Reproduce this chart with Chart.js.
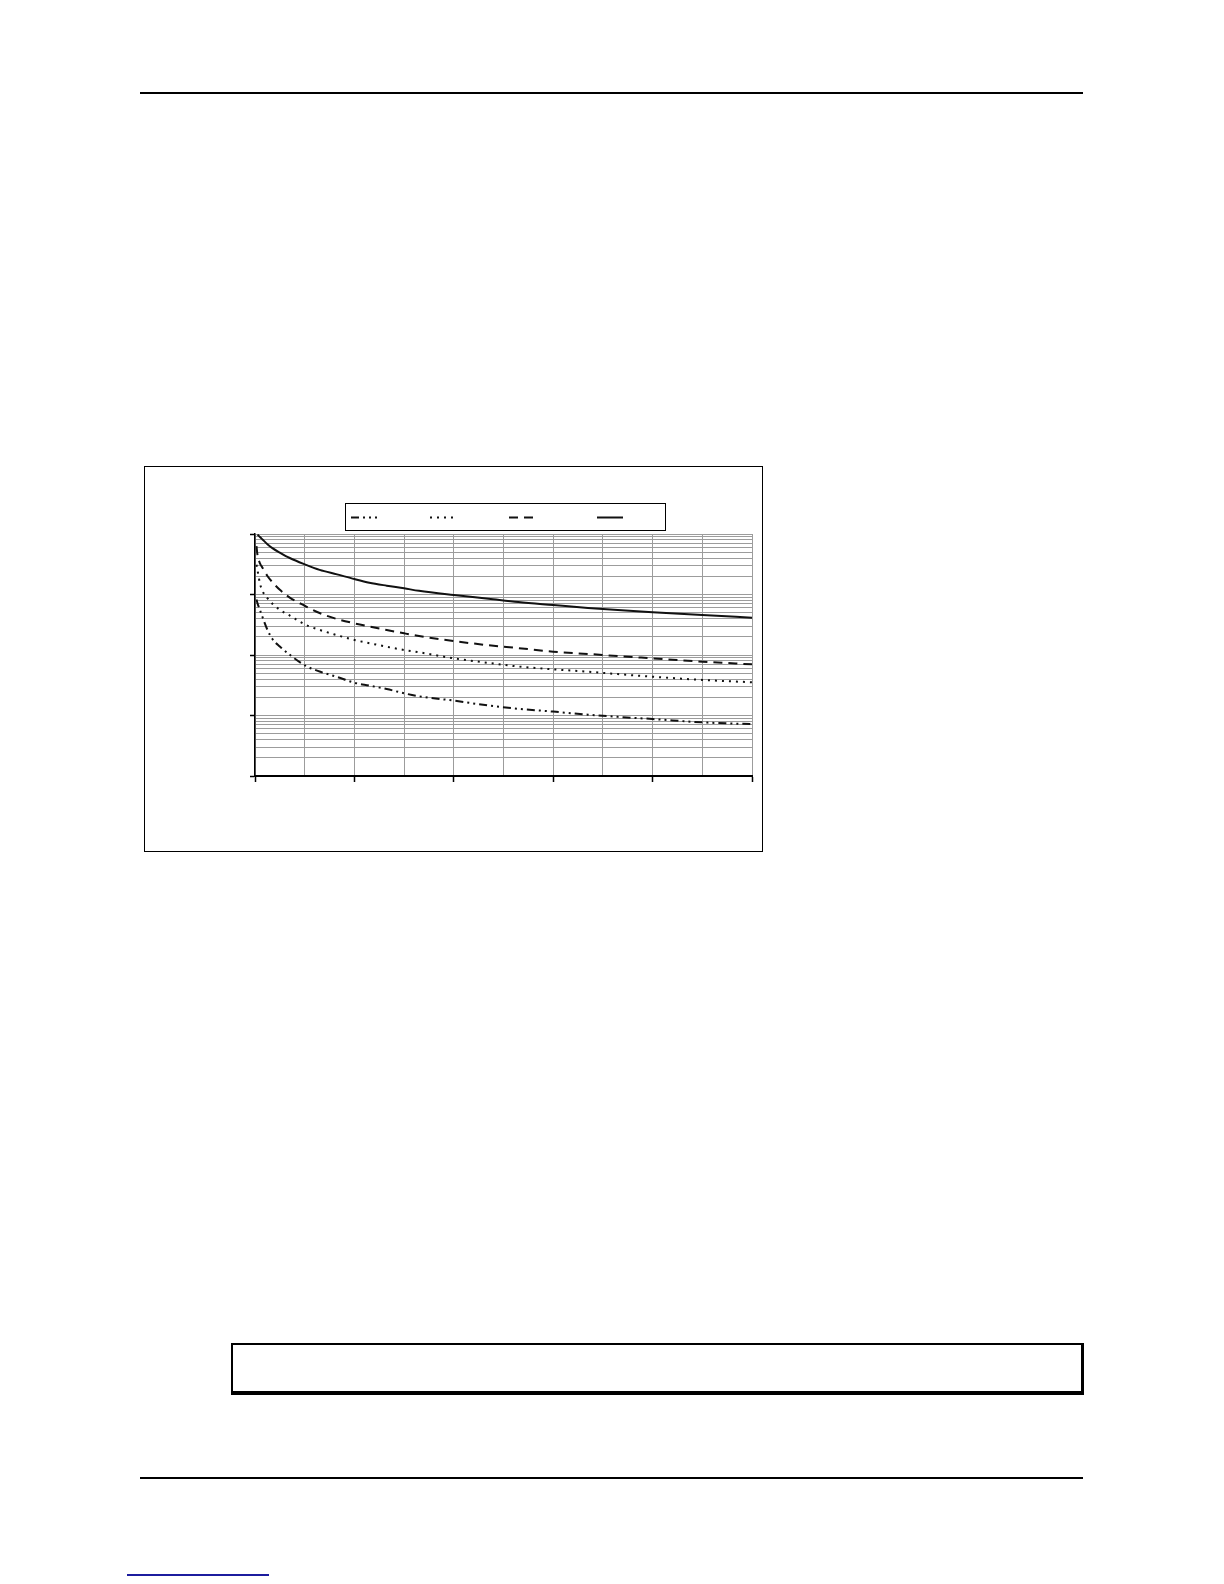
<!DOCTYPE html>
<html lang="en">
  <head>
    <meta charset="UTF-8" />
    <title>Chart</title>
    <style>
      body {
        margin: 0;
        width: 1224px;
        height: 1584px;
        position: relative;
        background: #fff;
        font-family: "Liberation Sans", Arial, sans-serif;
      }
      .rule {
        position: absolute;
        left: 140px;
        width: 943px;
        height: 0;
        border-top: 2px solid #000;
      }
      .frame {
        position: absolute;
        left: 144px;
        top: 466px;
        width: 619px;
        height: 386px;
        border: 1px solid #000;
        box-sizing: border-box;
      }
      .note {
        position: absolute;
        left: 231px;
        top: 1343px;
        width: 853px;
        height: 52px;
        box-sizing: border-box;
        border: 2px solid #000;
        border-bottom-width: 4px;
        border-right-width: 3px;
      }
      .link {
        position: absolute;
        left: 127px;
        top: 1574px;
        width: 142px;
        border-top: 2px solid #1c1c9e;
      }
    </style>
  </head>
  <body>
    <div class="rule" style="top: 92px"></div>
    <div class="frame">
      <canvas id="chart"></canvas>
    </div>
    <div class="note"></div>
    <div class="rule" style="top: 1477px"></div>
    <div class="link"></div>

    <script src="https://cdn.jsdelivr.net/npm/chart.js@4.4.1/dist/chart.umd.min.js"></script>
    <script>
      // x positions shared by all four curves
      const xs = [0.3, 0.5, 1, 1.5, 2.5, 3.5, 5, 7, 10, 13, 16.5, 20, 23, 26.5, 30, 33, 40, 47, 53, 60, 67, 73, 80, 90, 100];

      // values (log y axis, 1 .. 10000)
      const dashDotValues = [830, 718, 552, 425, 261, 184, 138, 101, 67.6, 53.3, 43.5, 34.8, 31.2, 27.4, 23.3, 20.8, 17.6, 14.6, 12.9, 11.6, 10.3, 9.5, 8.75, 7.7, 7.2];
      const dottedValues = [3100, 2540, 1515, 1143, 869, 705, 558, 448, 321, 260, 213, 177, 157, 137, 121, 111, 88, 74, 64.5, 58, 53, 48.3, 43.8, 38.7, 35.4];
      const dashedValues = [6300, 4500, 3280, 2780, 2025, 1598, 1194, 887, 652, 494, 393, 334, 296, 259, 228, 206, 170, 145, 130, 113.5, 104, 96, 88, 77.6, 70];
      const solidValues = [null, 9800, 8900, 8130, 6800, 5850, 4930, 4010, 3150, 2550, 2150, 1800, 1570, 1400, 1265, 1150, 980, 850, 750, 670, 600, 553, 508, 458, 414];

      const seriesNames = ["Curve 1", "Curve 2", "Curve 3", "Curve 4"];

      function toPoints(values) {
        return xs.map((x, i) => ({ x: x, y: values[i] }));
      }

      // legend sample positions inside the canvas
      const legendRect = { x: 200.5, y: 36.5, w: 320, h: 27 };
      const legendSampleX = [206, 285, 364, 452];
      const legendSampleY = 50.5;

      const legendBox = {
        id: "legendBox",
        afterDraw(chart) {
          const ctx = chart.ctx;
          ctx.save();
          ctx.strokeStyle = "#000";
          ctx.lineWidth = 1;
          ctx.setLineDash([]);
          ctx.strokeRect(legendRect.x, legendRect.y, legendRect.w, legendRect.h);
          chart.data.datasets.forEach((ds, i) => {
            ctx.setLineDash(ds.borderDash || []);
            ctx.lineWidth = ds.borderWidth;
            ctx.strokeStyle = ds.borderColor;
            ctx.beginPath();
            ctx.moveTo(legendSampleX[i], legendSampleY);
            ctx.lineTo(legendSampleX[i] + 26, legendSampleY);
            ctx.stroke();
          });
          ctx.restore();
        },
      };

      const lineColor = "#111";
      const gridColor = "#9c9c9c";

      new Chart(document.getElementById("chart"), {
        type: "line",
        data: {
          datasets: [
            {
              label: seriesNames[0],
              data: toPoints(dashDotValues),
              borderColor: lineColor,
              borderWidth: 2,
              borderDash: [8, 4, 2, 4, 2, 4],
            },
            {
              label: seriesNames[1],
              data: toPoints(dottedValues),
              borderColor: lineColor,
              borderWidth: 2,
              borderDash: [2, 5],
            },
            {
              label: seriesNames[2],
              data: toPoints(dashedValues),
              borderColor: lineColor,
              borderWidth: 2,
              borderDash: [9, 6],
            },
            {
              label: seriesNames[3],
              data: toPoints(solidValues),
              borderColor: lineColor,
              borderWidth: 2,
            },
          ],
        },
        options: {
          responsive: true,
          maintainAspectRatio: false,
          animation: false,
          layout: {
            padding: { left: 105, right: 10, top: 67, bottom: 69 },
          },
          elements: {
            point: { radius: 0 },
            line: { cubicInterpolationMode: "monotone", fill: false },
          },
          plugins: {
            legend: { display: false },
            tooltip: { enabled: false },
          },
          scales: {
            x: {
              type: "linear",
              min: 0,
              max: 100,
              ticks: { stepSize: 10, display: false },
              grid: {
                color: gridColor,
                lineWidth: 1,
                drawTicks: true,
                tickLength: 6,
                tickWidth: 1.5,
                tickColor: (c) => (c.index % 2 === 0 ? "#000" : "rgba(0,0,0,0)"),
              },
              border: { display: true, color: "#000", width: 2 },
            },
            y: {
              type: "logarithmic",
              min: 1,
              max: 10000,
              afterBuildTicks: (scale) => {
                const t = [];
                for (let e = 0; e < 4; e++) {
                  for (let m = 1; m < 10; m++) {
                    t.push({ value: m * Math.pow(10, e), major: m === 1 });
                  }
                }
                t.push({ value: 10000, major: true });
                scale.ticks = t;
              },
              ticks: { display: false },
              grid: {
                color: gridColor,
                lineWidth: 1,
                drawTicks: true,
                tickLength: 5,
                tickWidth: 1.5,
                tickColor: (c) => (c.tick && c.tick.major ? "#000" : "rgba(0,0,0,0)"),
              },
              border: { display: true, color: "#000", width: 1.5 },
            },
          },
        },
        plugins: [legendBox],
      });
    </script>
  </body>
</html>
